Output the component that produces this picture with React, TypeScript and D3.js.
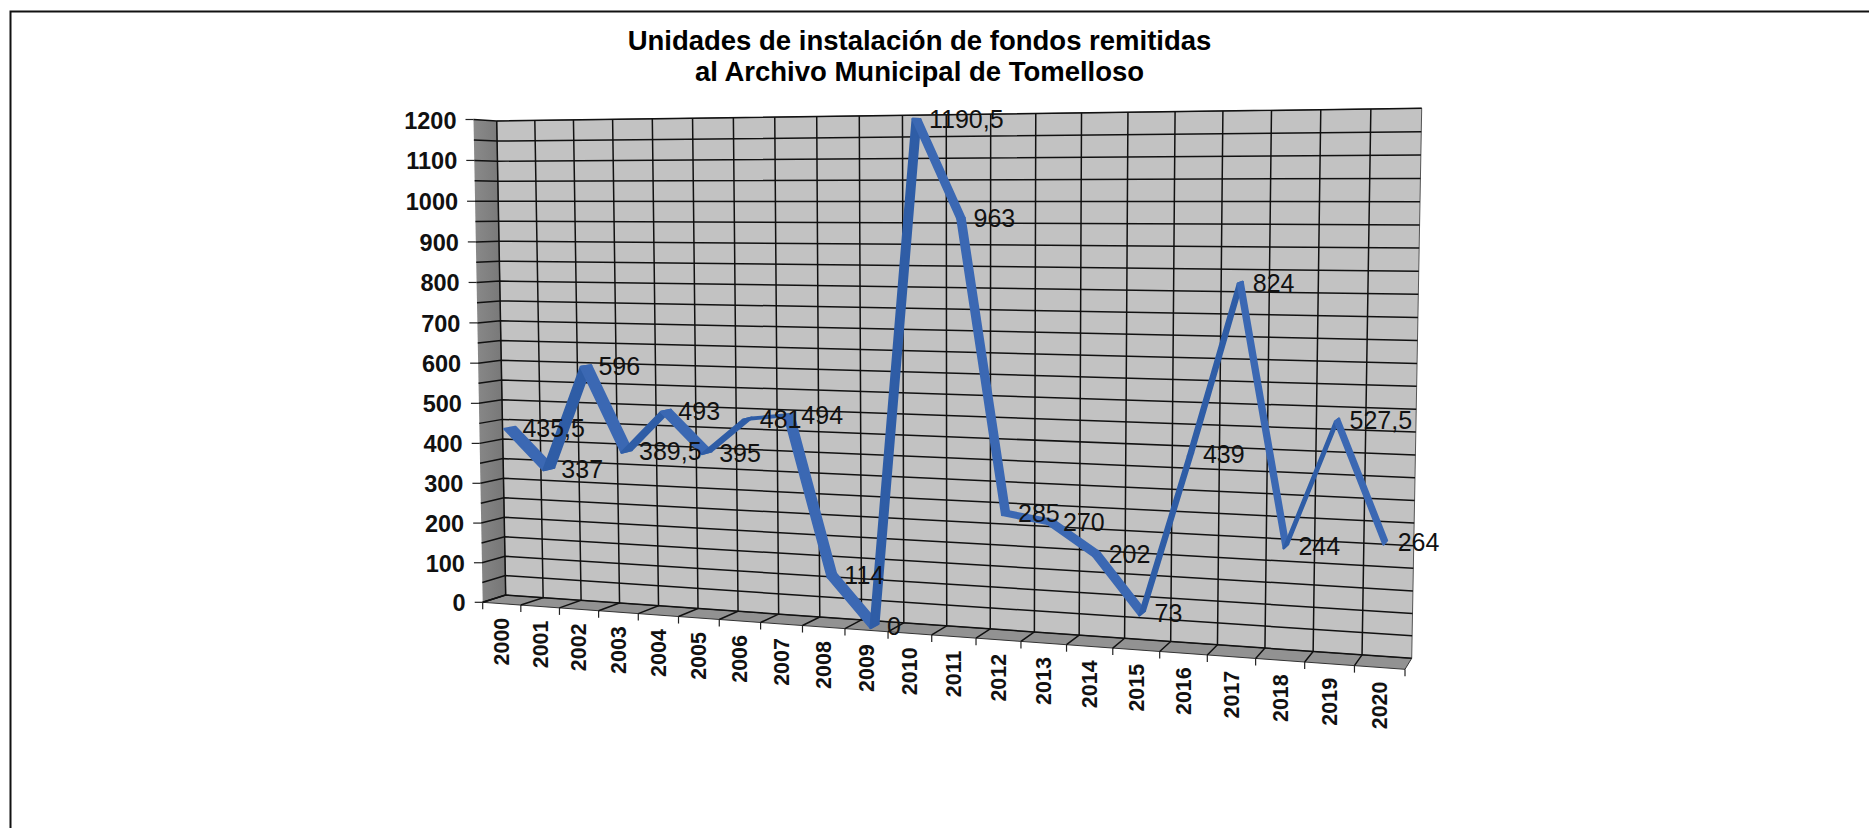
import React from "react";
import * as d3 from "d3";

const titleLines = ["Unidades de instalación de fondos remitidas", "al Archivo Municipal de Tomelloso"];
const years = ["2000","2001","2002","2003","2004","2005","2006","2007","2008","2009","2010","2011","2012","2013","2014","2015","2016","2017","2018","2019","2020"];
const values = [435.5,337,596,389.5,493,395,481,494,114,0,1190.5,963,285,270,202,73,439,824,244,527.5,264];
const valueLabels = ["435,5","337","596","389,5","493","395","481","494","114","0","1190,5","963","285","270","202","73","439","824","244","527,5","264"];
const yTicks = d3.range(0, 1201, 100);
const yGrid = d3.range(0, 1201, 50);

type P = [number, number];
// plot box corners: bottom-left, bottom-right, top-right, top-left
const frontQuad: P[] = [[482.7,602.3],[1405,669.3],[1414.7,109.3],[473.5,119.5]];
const backQuad: P[] = [[505.7,595],[1411.7,658.3],[1421.7,108.3],[496.7,121]];

const lerp = (a: P, b: P, t: number): P => [a[0]+(b[0]-a[0])*t, a[1]+(b[1]-a[1])*t];
function plane(depth: number) {
  const [p0,p1,p2,p3] = frontQuad.map((q,i)=>lerp(q,backQuad[i],depth));
  const dx1=p1[0]-p2[0], dx2=p3[0]-p2[0], sx=p0[0]-p1[0]+p2[0]-p3[0];
  const dy1=p1[1]-p2[1], dy2=p3[1]-p2[1], sy=p0[1]-p1[1]+p2[1]-p3[1];
  const den=dx1*dy2-dx2*dy1;
  const g=(sx*dy2-dx2*sy)/den, h=(dx1*sy-sx*dy1)/den;
  const a=p1[0]-p0[0]+g*p1[0], b=p3[0]-p0[0]+h*p3[0], c=p0[0];
  const d=p1[1]-p0[1]+g*p1[1], e=p3[1]-p0[1]+h*p3[1], f=p0[1];
  return (u:number,v:number):P=>{const w=g*u+h*v+1; return [(a*u+b*v+c)/w,(d*u+e*v+f)/w];};
}
const uScale = d3.scaleLinear().domain([0,years.length]).range([0,1]);
const vScale = d3.scaleLinear().domain([0,1200]).range([0,1]);
const front = plane(0), back = plane(1), mid = plane(0.5), rA = plane(0.26), rB = plane(0.74);
const path = d3.line<P>();
const FONT = "'Liberation Sans', Arial, sans-serif";

export default function App() {
  const ribbon = values.slice(1).map((val,i)=>{
    const u0=uScale(i+0.5), u1=uScale(i+1.5), v0=vScale(values[i]), v1=vScale(val);
    return { pts:[rA(u0,v0),rA(u1,v1),rB(u1,v1),rB(u0,v0)] as P[], up: val>values[i] };
  });
  const pts = values.map((v,i)=>mid(uScale(i+0.5),vScale(v)));
  return (
    <svg width={1869} height={828} style={{position:"absolute",left:0,top:0,display:"block",background:"#fff"}}>
      <defs>
        <linearGradient id="side" x1="0" x2="1" y1="0" y2="0">
          <stop offset="0" stopColor="#8a8a8a"/>
          <stop offset="1" stopColor="#767676"/>
        </linearGradient>
      </defs>
      <path d="M10.5,828V11.5H1869" fill="none" stroke="#111" strokeWidth={2}/>
      {titleLines.map((t,i)=>(
        <text key={t} x={919.5} y={50+i*30.5} textAnchor="middle" fontFamily={FONT} fontWeight="bold" fontSize={27.5} fill="#000">{t}</text>
      ))}
      <path d={path([front(0,0),front(0,1),back(0,1),back(0,0)])+"Z"} fill="url(#side)"/>
      <path d={path([front(0,0),front(1,0),back(1,0),back(0,0)])+"Z"} fill="#929292" stroke="#333" strokeWidth={1}/>
      <path d={path([back(0,0),back(1,0),back(1,1),back(0,1)])+"Z"} fill="#c2c2c2" stroke="#555" strokeWidth={1}/>
      {yGrid.map(v=>{const t=vScale(v);return (
        <path key={v} d={path([front(0,t),back(0,t),back(1,t)])!} fill="none" stroke="#111" strokeWidth={1.5}/>
      );})}
      {years.map((_,i)=>{const t=uScale(i);return (
        <path key={i} d={path([front(t,0),back(t,0),back(t,1)])!} fill="none" stroke="#111" strokeWidth={1.5}/>
      );})}
      {yTicks.map(v=>{const [x,y]=front(0,vScale(v));return (
        <g key={v}>
          <line x1={x-8} x2={x} y1={y} y2={y} stroke="#222" strokeWidth={1.2}/>
          <text x={x-17} y={y+9} textAnchor="end" fontFamily={FONT} fontWeight="bold" fontSize={23.5} fill="#111">{v}</text>
        </g>
      );})}
      {d3.range(years.length+1).map(i=>{const [x,y]=front(uScale(i),0);return (
        <line key={i} x1={x} x2={x} y1={y} y2={y+7} stroke="#222" strokeWidth={1.2}/>
      );})}
      {years.map((yr,i)=>{const [x,y]=front(uScale(i+0.5),0);return (
        <text key={yr} transform={`translate(${x+7.5},${y+14}) rotate(-90)`} textAnchor="end" fontFamily={FONT} fontWeight="bold" fontSize={21.5} fill="#111">{yr}</text>
      );})}
      {ribbon.map((r,i)=>(
        <path key={i} d={path(r.pts)+"Z"} fill={r.up?"#2f5da6":"#3b68b3"} stroke={r.up?"#2f5da6":"#3b68b3"} strokeWidth={2.4} strokeLinejoin="round"/>
      ))}
      {valueLabels.map((l,i)=>(
        <text key={i} x={pts[i][0]+12.5} y={pts[i][1]+9} fontFamily={FONT} fontSize={25} fill="#111">{l}</text>
      ))}
    </svg>
  );
}
